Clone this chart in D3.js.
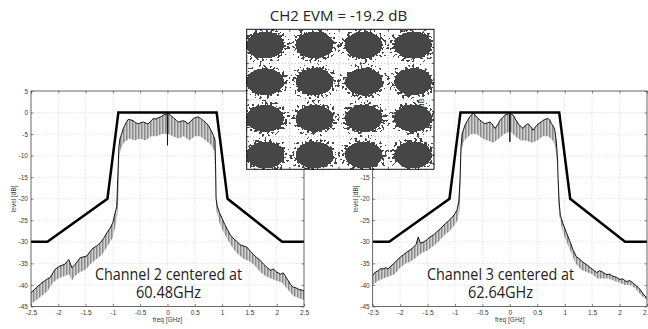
<!DOCTYPE html>
<html>
<head>
<meta charset="utf-8">
<script src="https://cdn.jsdelivr.net/npm/d3@7"></script>
<style>
  body { margin: 0; background: #fff; }
  svg { display: block; }
</style>
</head>
<body>
<svg id="chart" width="648" height="329"></svg>
<script>
// ---- data ----
const xTicks = [-2.5, -2, -1.5, -1, -0.5, 0, 0.5, 1, 1.5, 2, 2.5];
const yTicks = [5, 0, -5, -10, -15, -20, -25, -30, -35, -40, -45];

// spectral mask [freq GHz, level dB]
const maskPts = [[-2.5, -30], [-2.2, -30], [-1.1, -20], [-0.9, 0], [0.9, 0], [1.1, -20], [2.1, -30], [2.5, -30]];

// channel 2: smoothed (black) trace and lower edge of the raw (grey) trace
const ch2Trace = [[-2.5,-41.8],[-2.4,-40.6],[-2.3,-39.5],[-2.2,-38.6],[-2.15,-38.3],[-2.06,-36.4],[-1.97,-35.6],[-1.88,-35.2],[-1.81,-34.1],[-1.75,-36.0],[-1.69,-35.2],[-1.6,-33.7],[-1.48,-33.3],[-1.42,-32.3],[-1.36,-31.4],[-1.3,-31.0],[-1.23,-30.2],[-1.17,-29.2],[-1.11,-27.9],[-1.05,-26.8],[-1.0,-25.5],[-0.96,-23.3],[-0.93,-21.8],[-0.91,-15],[-0.89,-8],[-0.87,-6.0],[-0.84,-5.0],[-0.81,-3.7],[-0.76,-2.4],[-0.72,-1.6],[-0.67,-1.7],[-0.63,-1.9],[-0.58,-2.4],[-0.53,-2.6],[-0.48,-2.3],[-0.44,-2.2],[-0.39,-2.5],[-0.35,-2.6],[-0.3,-1.9],[-0.26,-1.4],[-0.21,-1.5],[-0.17,-1.2],[-0.12,-1.0],[-0.08,-0.6],[-0.03,-0.4],[-0.005,-0.2],[0,-7.6],[0.005,-0.2],[0.03,-0.3],[0.07,-0.8],[0.11,-1.2],[0.16,-1.8],[0.2,-2.2],[0.25,-2.0],[0.29,-1.9],[0.34,-2.2],[0.38,-2.6],[0.43,-2.0],[0.47,-1.4],[0.52,-1.1],[0.56,-1.0],[0.61,-1.4],[0.66,-1.9],[0.7,-2.3],[0.75,-3.0],[0.8,-4.2],[0.84,-5.3],[0.87,-6.4],[0.88,-12],[0.89,-20],[0.91,-21.6],[0.95,-23.2],[1.0,-24.6],[1.05,-26.0],[1.1,-27.2],[1.15,-28.4],[1.22,-29.4],[1.28,-30.0],[1.33,-30.7],[1.4,-31.0],[1.45,-31.2],[1.52,-32.2],[1.58,-33.0],[1.63,-33.6],[1.69,-34.2],[1.76,-35.2],[1.82,-35.9],[1.88,-36.6],[1.94,-36.3],[2.0,-37.0],[2.07,-37.5],[2.12,-37.2],[2.2,-38.8],[2.26,-40.0],[2.3,-40.5],[2.34,-40.6],[2.4,-41.0],[2.46,-41.2],[2.5,-41.4]];
const ch2Floor = [[-2.5,-44.5],[-2.4,-43.5],[-2.3,-42.5],[-2.2,-41.5],[-2.1,-39.5],[-2.0,-38.5],[-1.9,-38],[-1.8,-37.5],[-1.75,-39],[-1.7,-38],[-1.6,-37],[-1.5,-36.5],[-1.4,-35],[-1.3,-34],[-1.2,-33],[-1.1,-31],[-1.0,-29],[-0.95,-26],[-0.92,-24],[-0.9,-20],[-0.88,-10],[-0.86,-8.5],[-0.8,-7],[-0.7,-6],[-0.6,-6.5],[-0.5,-6],[-0.4,-6.5],[-0.3,-5.5],[-0.2,-5.5],[-0.1,-5],[-0.02,-5],[0.02,-5],[0.1,-5.5],[0.2,-6],[0.3,-5.5],[0.4,-6.5],[0.5,-5.5],[0.6,-5.5],[0.7,-6.5],[0.8,-7.5],[0.86,-9],[0.88,-20],[0.9,-23],[0.95,-25.5],[1.0,-27],[1.1,-29.5],[1.2,-31.5],[1.3,-33],[1.4,-34],[1.5,-34.5],[1.6,-35.5],[1.7,-37],[1.8,-38],[1.9,-38.5],[2.0,-39],[2.1,-39.5],[2.2,-41],[2.3,-42.5],[2.4,-43],[2.5,-43.5]];

// channel 3
const ch3Trace = [[-2.5,-37.8],[-2.45,-37.0],[-2.4,-36.7],[-2.35,-36.2],[-2.31,-36.3],[-2.26,-36.0],[-2.22,-36.3],[-2.17,-35.6],[-2.12,-35.1],[-2.06,-34.3],[-2.0,-33.6],[-1.94,-33.0],[-1.88,-32.4],[-1.82,-31.9],[-1.76,-31.3],[-1.71,-30.6],[-1.67,-28.9],[-1.63,-30.3],[-1.58,-30.1],[-1.52,-29.6],[-1.46,-28.9],[-1.4,-28.5],[-1.34,-27.8],[-1.26,-26.9],[-1.18,-25.8],[-1.12,-25.2],[-1.06,-24.4],[-1.0,-23.5],[-0.96,-22.5],[-0.93,-20.5],[-0.91,-16],[-0.89,-8],[-0.87,-5.0],[-0.82,-3.0],[-0.77,-1.8],[-0.73,-1.0],[-0.69,-0.4],[-0.66,-0.2],[-0.62,-0.8],[-0.58,-1.4],[-0.52,-2.0],[-0.46,-2.6],[-0.41,-2.4],[-0.36,-2.2],[-0.31,-2.9],[-0.27,-3.7],[-0.22,-2.8],[-0.18,-1.8],[-0.13,-1.2],[-0.09,-0.6],[-0.04,-0.3],[-0.005,-0.2],[0,-6.8],[0.005,-0.3],[0.03,-0.4],[0.06,-0.6],[0.1,-1.5],[0.15,-2.6],[0.2,-3.2],[0.24,-3.7],[0.28,-3.0],[0.33,-2.6],[0.38,-3.2],[0.42,-4.1],[0.47,-3.3],[0.52,-2.6],[0.57,-2.2],[0.61,-1.8],[0.66,-1.5],[0.7,-1.4],[0.73,-1.8],[0.76,-2.6],[0.8,-3.4],[0.82,-4.1],[0.85,-7.1],[0.87,-11],[0.88,-15.6],[0.9,-21],[0.92,-23.8],[0.97,-25.8],[1.03,-27.8],[1.09,-29.7],[1.15,-31.8],[1.21,-33.4],[1.27,-34.0],[1.33,-34.7],[1.4,-35.3],[1.46,-35.9],[1.52,-36.5],[1.58,-37.1],[1.64,-36.7],[1.7,-37.1],[1.76,-37.6],[1.82,-37.5],[1.88,-38.0],[1.94,-38.2],[2.0,-38.7],[2.06,-38.6],[2.12,-39.2],[2.19,-39.0],[2.25,-39.6],[2.31,-40.2],[2.37,-41.0],[2.43,-42.1],[2.49,-42.9],[2.5,-43.0]];
const ch3Floor = [[-2.5,-40],[-2.4,-39],[-2.3,-38.5],[-2.2,-38],[-2.1,-37.5],[-2.0,-36],[-1.9,-35],[-1.8,-34.5],[-1.7,-33.5],[-1.6,-32.5],[-1.5,-32],[-1.4,-31],[-1.3,-30],[-1.2,-28.5],[-1.1,-27.5],[-1.0,-26],[-0.95,-25],[-0.92,-23],[-0.9,-18],[-0.88,-9],[-0.85,-7],[-0.8,-6],[-0.7,-5],[-0.6,-5],[-0.5,-6],[-0.4,-6.5],[-0.3,-7],[-0.2,-6],[-0.1,-5],[-0.02,-4.5],[0.02,-4.5],[0.1,-5.5],[0.2,-6.5],[0.3,-6.5],[0.4,-7],[0.5,-6.5],[0.6,-5.5],[0.7,-5.5],[0.78,-6.5],[0.83,-8],[0.86,-12],[0.88,-19],[0.9,-24],[0.95,-27],[1.0,-29],[1.1,-32],[1.2,-35],[1.3,-36.5],[1.4,-37],[1.5,-37.5],[1.6,-38.5],[1.7,-38.5],[1.8,-38.5],[1.9,-39],[2.0,-39.5],[2.1,-40],[2.2,-40],[2.3,-41],[2.4,-42.5],[2.5,-43.5]];

const ch2Caption = ['Channel 2 centered at', '60.48GHz'];
const ch3Caption = ['Channel 3 centered at', '62.64GHz'];

// 16-QAM constellation: symbol levels and cloud spread (symbol units)
const constI = [-3, -1, 1, 3];
const constQ = [3, 1, -1, -3];
const constGrid = [-2, 0, 2];
const cloudSpreadI = 1.06;
const cloudSpreadQ = 1.02;
const evmTitle = 'CH2 EVM = -19.2 dB';

// ---- drawing ----
const svg = d3.select('#chart');
const defs = svg.append('defs');

var hatch = defs.append('pattern')
  .attr('id', 'hatch')
  .attr('patternUnits', 'userSpaceOnUse')
  .attr('width', 3).attr('height', 4);
hatch.append('rect').attr('width', 3).attr('height', 4).attr('fill', '#d2d2d2');
hatch.append('rect').attr('x', 0).attr('width', 1).attr('height', 4).attr('fill', '#8a8a8a');
hatch.append('rect').attr('x', 1).attr('width', 1).attr('height', 4).attr('fill', '#b0b0b0');

var yTop = 91, yBot = 306.5;
var y = d3.scaleLinear().domain([5, -45]).range([yTop, yBot]);

var panels = [
  { left: 31, right: 304, trace: ch2Trace, floor: ch2Floor, caption: ch2Caption, capX: 168.5 },
  { left: 372.7, right: 647, trace: ch3Trace, floor: ch3Floor, caption: ch3Caption, capX: 500.5 }
];

function styleAxis(sel) {
  sel.select('.domain').remove();
  sel.attr('font-family', 'Liberation Sans, Arial, sans-serif')
     .attr('font-size', 6.5)
     .attr('color', '#3a3a3a');
  sel.selectAll('line').attr('stroke-width', 0.6);
}

panels.forEach(function(p, i) {
  var x = d3.scaleLinear().domain([-2.5, 2.5]).range([p.left, p.right]);
  var g = svg.append('g');

  defs.append('clipPath').attr('id', 'clip' + i)
    .append('rect')
    .attr('x', p.left).attr('y', yTop)
    .attr('width', p.right - p.left).attr('height', yBot - yTop);

  // dotted grid
  g.append('g').selectAll('line').data(xTicks).join('line')
    .attr('x1', d => x(d)).attr('x2', d => x(d))
    .attr('y1', yTop).attr('y2', yBot)
    .attr('stroke', '#c4c4c4').attr('stroke-width', 0.6).attr('stroke-dasharray', '1,1.6');
  g.append('g').selectAll('line').data(yTicks).join('line')
    .attr('x1', p.left).attr('x2', p.right)
    .attr('y1', d => y(d)).attr('y2', d => y(d))
    .attr('stroke', '#c4c4c4').attr('stroke-width', 0.6).attr('stroke-dasharray', '1,1.6');

  var line = d3.line().x(d => x(d[0])).y(d => y(d[1]));
  var dg = g.append('g').attr('clip-path', 'url(#clip' + i + ')');

  // raw trace shown as grey band under the smoothed one
  var band = p.trace.concat(p.floor.slice().reverse());
  dg.append('path').attr('d', line(band) + 'Z').attr('fill', 'url(#hatch)');
  dg.append('path').attr('d', line(p.trace))
    .attr('fill', 'none').attr('stroke', '#151515').attr('stroke-width', 1);
  dg.append('path').attr('d', line(maskPts))
    .attr('fill', 'none').attr('stroke', '#000').attr('stroke-width', 2.5);

  // axes (matlab style, ticks pointing in)
  g.append('g').attr('transform', 'translate(0,' + yBot + ')')
    .call(d3.axisBottom(x).tickValues(xTicks).tickSize(-2.5).tickPadding(3.5).tickFormat(d => String(d)))
    .call(styleAxis);
  g.append('g').attr('transform', 'translate(0,' + yTop + ')')
    .call(d3.axisTop(x).tickValues(xTicks).tickSize(-2.5).tickFormat(''))
    .call(styleAxis);
  g.append('g').attr('transform', 'translate(' + p.left + ',0)')
    .call(d3.axisLeft(y).tickValues(yTicks).tickSize(-2.5).tickPadding(3).tickFormat(d => String(d)))
    .call(styleAxis);
  g.append('g').attr('transform', 'translate(' + p.right + ',0)')
    .call(d3.axisRight(y).tickValues(yTicks).tickSize(-2.5).tickFormat(''))
    .call(styleAxis);

  g.append('rect')
    .attr('x', p.left).attr('y', yTop)
    .attr('width', p.right - p.left).attr('height', yBot - yTop)
    .attr('fill', 'none').attr('stroke', '#333').attr('stroke-width', 0.7);

  g.append('text')
    .attr('x', (p.left + p.right) / 2).attr('y', 321.5)
    .attr('text-anchor', 'middle')
    .attr('font-family', 'Liberation Sans, Arial, sans-serif').attr('font-size', 6.5)
    .attr('fill', '#3a3a3a')
    .text('freq [GHz]');
  g.append('text')
    .attr('transform', 'translate(' + (p.left - 15) + ',' + ((yTop + yBot) / 2) + ') rotate(-90)')
    .attr('text-anchor', 'middle')
    .attr('font-family', 'Liberation Sans, Arial, sans-serif').attr('font-size', 6.5)
    .attr('fill', '#3a3a3a')
    .text('level [dB]');

  // caption
  var cap = g.append('g')
    .attr('font-family', 'Open Sans, Noto Sans, sans-serif')
    .attr('font-size', 16).attr('fill', '#222').attr('text-anchor', 'middle');
  cap.append('text').attr('x', p.capX).attr('y', 279.5)
    .attr('textLength', 147).attr('lengthAdjust', 'spacingAndGlyphs')
    .text(p.caption[0]);
  cap.append('text').attr('x', p.capX).attr('y', 298.3)
    .attr('textLength', 65).attr('lengthAdjust', 'spacingAndGlyphs')
    .text(p.caption[1]);
});

// ---- constellation inset ----
var bx0 = 246.7, bx1 = 434, by0 = 29.3, by1 = 169.3;
var iS = d3.scaleLinear().domain([-3.75, 3.85]).range([bx0, bx1]);
var qS = d3.scaleLinear().domain([3.86, -3.78]).range([by0, by1]);

// cloud density: solid core, sparse fringe
var grad = defs.append('radialGradient').attr('id', 'cloud');
[[0, 1], [0.64, 1], [0.73, 0.74], [0.86, 0.55], [1, 0.34]].forEach(function(s) {
  grad.append('stop').attr('offset', s[0]).attr('stop-color', '#000').attr('stop-opacity', s[1]);
});

var filt = defs.append('filter').attr('id', 'speckle')
  .attr('filterUnits', 'userSpaceOnUse')
  .attr('x', bx0).attr('y', by0).attr('width', bx1 - bx0).attr('height', by1 - by0)
  .attr('color-interpolation-filters', 'sRGB');
filt.append('feTurbulence').attr('type', 'fractalNoise').attr('baseFrequency', 0.4)
  .attr('numOctaves', 1).attr('seed', 7).attr('result', 'noise');
filt.append('feColorMatrix').attr('in', 'noise').attr('type', 'matrix')
  .attr('values', '0 0 0 0 0  0 0 0 0 0  0 0 0 0 0  4 0 0 0 -2').attr('result', 'na');
filt.append('feComposite').attr('in', 'SourceAlpha').attr('in2', 'na')
  .attr('operator', 'arithmetic').attr('k1', 0).attr('k2', 1.5).attr('k3', 1).attr('k4', -1)
  .attr('result', 'sum');
filt.append('feComponentTransfer').attr('in', 'sum').attr('result', 'dots')
  .append('feFuncA').attr('type', 'discrete').attr('tableValues', '0 1 1 1 1 1');
filt.append('feFlood').attr('flood-color', '#464646').attr('result', 'ink');
filt.append('feComposite').attr('in', 'ink').attr('in2', 'dots').attr('operator', 'in');

var inset = svg.append('g');
inset.append('rect')
  .attr('x', bx0).attr('y', by0).attr('width', bx1 - bx0).attr('height', by1 - by0)
  .attr('fill', '#fff');

inset.append('g').selectAll('line').data(constGrid).join('line')
  .attr('x1', d => iS(d)).attr('x2', d => iS(d)).attr('y1', by0).attr('y2', by1)
  .attr('stroke', '#9a9a9a').attr('stroke-width', 0.7).attr('stroke-dasharray', '1,2.2');
inset.append('g').selectAll('line').data(constGrid).join('line')
  .attr('y1', d => qS(d)).attr('y2', d => qS(d)).attr('x1', bx0).attr('x2', bx1)
  .attr('stroke', '#9a9a9a').attr('stroke-width', 0.7).attr('stroke-dasharray', '1,2.2');

var symbols = [];
constQ.forEach(q => constI.forEach(iv => symbols.push([iv, q])));
inset.append('g').attr('filter', 'url(#speckle)')
  .selectAll('ellipse').data(symbols).join('ellipse')
  .attr('cx', d => iS(d[0])).attr('cy', d => qS(d[1]))
  .attr('rx', iS(cloudSpreadI) - iS(0))
  .attr('ry', qS(0) - qS(cloudSpreadQ))
  .attr('fill', 'url(#cloud)');

// small inward ticks on the inset frame
var tk = inset.append('g').attr('stroke', '#222').attr('stroke-width', 0.7);
constGrid.forEach(function(d) {
  tk.append('line').attr('x1', iS(d)).attr('x2', iS(d)).attr('y1', by1).attr('y2', by1 - 2.5);
  tk.append('line').attr('x1', iS(d)).attr('x2', iS(d)).attr('y1', by0).attr('y2', by0 + 2.5);
  tk.append('line').attr('y1', qS(d)).attr('y2', qS(d)).attr('x1', bx0).attr('x2', bx0 + 2.5);
  tk.append('line').attr('y1', qS(d)).attr('y2', qS(d)).attr('x1', bx1).attr('x2', bx1 - 2.5);
});

inset.append('text')
  .attr('transform', 'translate(424,103) rotate(-90)')
  .attr('text-anchor', 'middle')
  .attr('font-family', 'Liberation Sans, Arial, sans-serif').attr('font-size', 8)
  .attr('fill', '#444')
  .text('dB');

inset.append('rect')
  .attr('x', bx0).attr('y', by0).attr('width', bx1 - bx0).attr('height', by1 - by0)
  .attr('fill', 'none').attr('stroke', '#111').attr('stroke-width', 1);

svg.append('text')
  .attr('x', 338.5).attr('y', 20.8)
  .attr('text-anchor', 'middle')
  .attr('font-family', 'Open Sans, Noto Sans, sans-serif')
  .attr('font-size', 15).attr('fill', '#222')
  .text(evmTitle);
</script>
</body>
</html>
